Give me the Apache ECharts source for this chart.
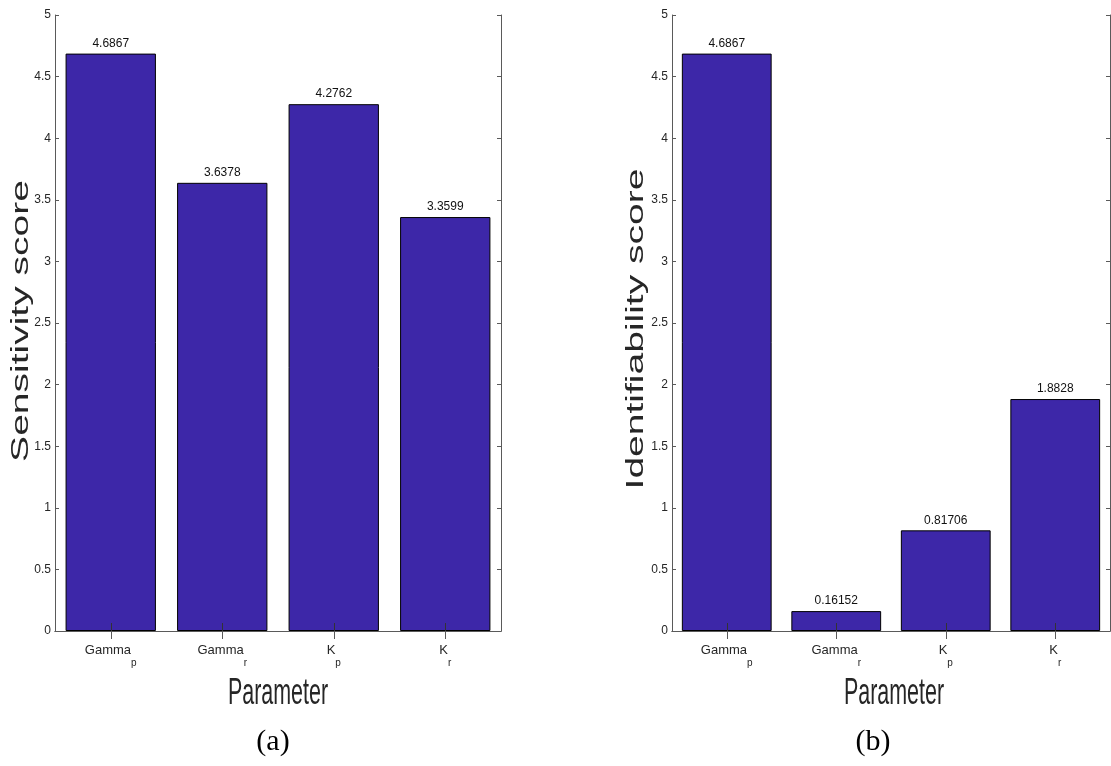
<!DOCTYPE html>
<html>
<head>
<meta charset="utf-8">
<script src="https://cdn.jsdelivr.net/npm/echarts@6/dist/echarts.min.js"></script>
<style>
  html, body { margin: 0; padding: 0; background: #fff; }
  #chart { width: 1111px; height: 766px; }
</style>
</head>
<body>
<div id="chart"></div>
<script>
// ---- data ----
const categories = ['Gamma_p', 'Gamma_r', 'K_p', 'K_r'];
const sensitivityScores = [4.6867, 3.6378, 4.2762, 3.3599];
const identifiabilityScores = [4.6867, 0.16152, 0.81706, 1.8828];
const yMin = 0, yMax = 5, yStep = 0.5;
const xTitle = 'Parameter';
const yTitles = ['Sensitivity score', 'Identifiability score'];
const captions = ['(a)', '(b)'];

// ---- styling ----
const SANS = '"Liberation Sans", Arial, sans-serif';
const AXIS_COLOR = '#5a5a5a';
const TEXT_COLOR = '#262626';
const BAR_COLOR = '#3d27a8';

const grids = [
  { left: 55, top: 15, width: 446, height: 616 },
  { left: 672, top: 15, width: 438, height: 616 }
];

function catLabel(v) {
  const parts = v.split('_');
  return '{b|' + parts[0] + '}{s|' + parts[1] + '}';
}

const xAxes = [], yAxes = [], series = [];
[sensitivityScores, identifiabilityScores].forEach(function (vals, i) {
  xAxes.push({
    type: 'category', gridIndex: i, position: 'bottom', data: categories, z: 5,
    axisLine: { show: true, lineStyle: { color: AXIS_COLOR, width: 1 } },
    axisTick: { show: true, inside: true, length: 8, alignWithLabel: true, lineStyle: { color: '#333' } },
    axisLabel: {
      interval: 0, margin: 13, formatter: catLabel, color: TEXT_COLOR,
      rich: {
        b: { fontFamily: SANS, fontSize: 13, color: TEXT_COLOR, verticalAlign: 'top', lineHeight: 15 },
        s: { fontFamily: SANS, fontSize: 10, color: TEXT_COLOR, verticalAlign: 'top', lineHeight: 11, padding: [14, 0, 0, 0] }
      }
    }
  });
  xAxes.push({
    type: 'category', gridIndex: i, position: 'top', data: categories, z: 5,
    axisLine: { show: true, lineStyle: { color: AXIS_COLOR, width: 1 } },
    axisTick: { show: true, inside: true, length: 8, alignWithLabel: true, lineStyle: { color: AXIS_COLOR } },
    axisLabel: { show: false }
  });
  yAxes.push({
    type: 'value', gridIndex: i, position: 'left', min: yMin, max: yMax, interval: yStep, z: 5,
    axisLine: { show: true, lineStyle: { color: AXIS_COLOR, width: 1 } },
    axisTick: { show: true, inside: true, length: 4, lineStyle: { color: AXIS_COLOR } },
    splitLine: { show: false },
    axisLabel: { margin: 4, fontFamily: SANS, fontSize: 12, color: TEXT_COLOR }
  });
  yAxes.push({
    type: 'value', gridIndex: i, position: 'right', min: yMin, max: yMax, interval: yStep, z: 5,
    axisLine: { show: true, lineStyle: { color: AXIS_COLOR, width: 1 } },
    axisTick: { show: true, inside: true, length: 4, lineStyle: { color: AXIS_COLOR } },
    splitLine: { show: false },
    axisLabel: { show: false }
  });
  series.push({
    type: 'bar', xAxisIndex: i * 2, yAxisIndex: i * 2, data: vals,
    barCategoryGap: i === 0 ? '19%' : '18%',
    itemStyle: { color: BAR_COLOR, borderColor: '#000', borderWidth: 1 },
    label: {
      show: true, position: 'top', distance: 4,
      fontFamily: SANS, fontSize: 12, color: '#111',
      formatter: function (p) { return String(p.value); }
    },
    emphasis: { disabled: true },
    silent: true
  });
});

// axis titles (squeezed like the reference figure) and panel captions
const titleGraphics = [];
grids.forEach(function (g, i) {
  const cx = g.left + g.width / 2;
  const cy = g.top + g.height / 2;
  titleGraphics.push({
    type: 'text', x: cx + (i === 0 ? 0 : 3), y: 694, scaleX: 0.58,
    style: { text: xTitle, font: '37px ' + SANS, fill: TEXT_COLOR, align: 'center', verticalAlign: 'middle' }
  });
  titleGraphics.push({
    type: 'text', x: i === 0 ? 22 : 637, y: cy + (i === 0 ? -2 : 6), rotation: Math.PI / 2, scaleY: 0.6,
    style: { text: yTitles[i], font: '39px ' + SANS, fill: TEXT_COLOR, align: 'center', verticalAlign: 'middle' }
  });
  titleGraphics.push({
    type: 'text', x: i === 0 ? 273 : 873, y: 742,
    style: { text: captions[i], font: '30px "Liberation Serif", "DejaVu Serif", serif', fill: '#000', align: 'center', verticalAlign: 'middle' }
  });
});

const chart = echarts.init(document.getElementById('chart'), null, { renderer: 'canvas' });
chart.setOption({
  animation: false,
  backgroundColor: '#fff',
  grid: grids,
  xAxis: xAxes,
  yAxis: yAxes,
  series: series,
  graphic: titleGraphics
});
</script>
</body>
</html>
